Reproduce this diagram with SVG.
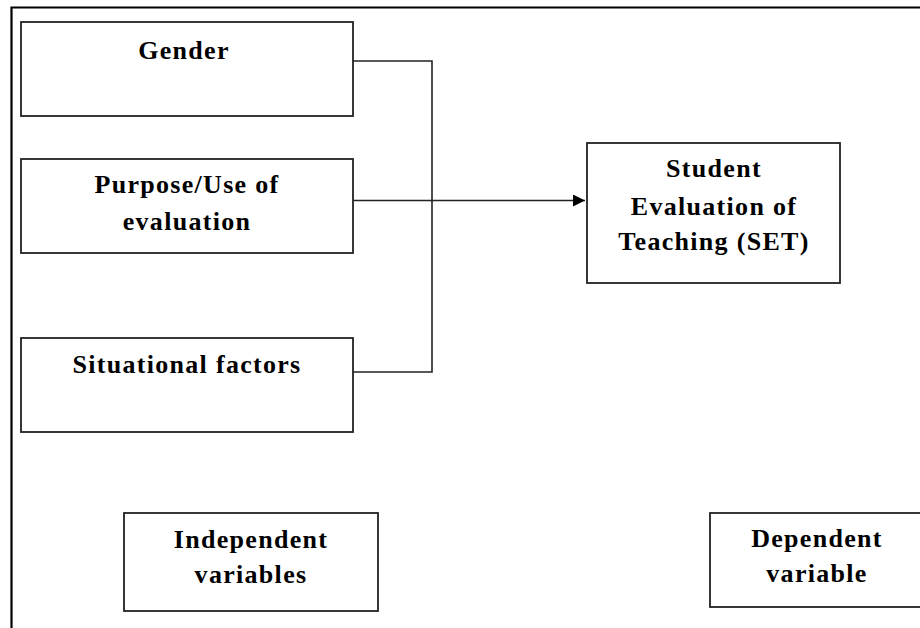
<svg xmlns="http://www.w3.org/2000/svg" width="920" height="628" viewBox="0 0 920 628">
<style>
.box{fill:#fff;stroke:#222;stroke-width:1.8}
.t{font-family:"Liberation Serif","Times New Roman",serif;font-weight:bold;font-size:26px;letter-spacing:1.3px;fill:#000;text-anchor:middle}
.c{fill:none;stroke:#222;stroke-width:1.6}
</style>
<defs>
<marker id="ah" viewBox="0 0 10 10" refX="10" refY="5" markerWidth="14" markerHeight="12" markerUnits="userSpaceOnUse" orient="auto"><path d="M0,0L10,5L0,10z" fill="#000"/></marker>
</defs>
<rect width="920" height="628" fill="#fff"/>
<path d="M11.5,628V7.5H920" fill="none" stroke="#000" stroke-width="2.2"/>
<g id="connectors">
<path class="c" d="M353,61H432V372H353"/>
<path class="c" d="M353,200.5H585" marker-end="url(#ah)"/>
</g>
<g id="gender"><rect class="box" x="21" y="22" width="332" height="94"/><text class="t" x="184" y="59">Gender</text></g>
<g id="purpose"><rect class="box" x="21" y="159" width="332" height="94"/><text class="t" x="187" y="193">Purpose/Use of</text><text class="t" x="187" y="230">evaluation</text></g>
<g id="situational"><rect class="box" x="21" y="338" width="332" height="94"/><text class="t" x="187" y="373">Situational factors</text></g>
<g id="set"><rect class="box" x="587" y="143" width="253" height="140"/><text class="t" x="714" y="177">Student</text><text class="t" x="714" y="215">Evaluation of</text><text class="t" x="714" y="250">Teaching (SET)</text></g>
<g id="independent"><rect class="box" x="124" y="513" width="254" height="98"/><text class="t" x="251" y="548">Independent</text><text class="t" x="251" y="583">variables</text></g>
<g id="dependent"><rect class="box" x="710" y="513" width="220" height="94"/><text class="t" x="817" y="547">Dependent</text><text class="t" x="817" y="582">variable</text></g>
</svg>
